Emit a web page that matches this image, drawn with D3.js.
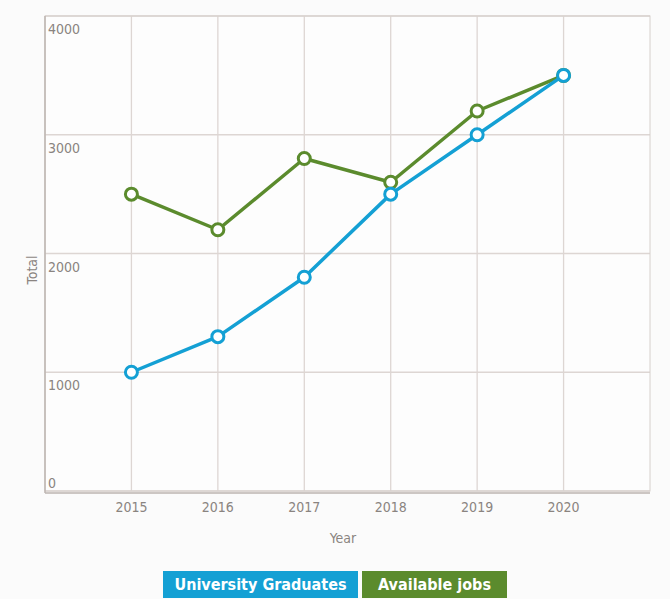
<!DOCTYPE html>
<html>
<head>
<meta charset="utf-8">
<script src="https://cdn.jsdelivr.net/npm/d3@7"></script>
<style>
  html, body { margin: 0; padding: 0; background: #fbfbfb; }
  svg { display: block; }
  text { font-family: "DejaVu Sans Condensed", "DejaVu Sans", sans-serif; font-stretch: condensed; }
</style>
</head>
<body>
<svg id="chart" width="670" height="599"></svg>
<script>
const years = [2015, 2016, 2017, 2018, 2019, 2020];
const graduates = [1000, 1300, 1800, 2500, 3000, 3500];
const jobs = [2500, 2200, 2800, 2600, 3200, 3500];
const yTicks = [0, 1000, 2000, 3000, 4000];
const seriesNames = ["University Graduates", "Available jobs"];
const seriesColors = ["#14a0d4", "#5b8b2d"];

const svg = d3.select("#chart");
const plotL = 45, plotR = 650, plotT = 16, plotB = 491;

const x = d3.scaleLinear().domain([2014, 2021]).range([plotL, plotR]);
const y = d3.scaleLinear().domain([0, 4000]).range([plotB, plotT]);

// plot panel
svg.append("rect")
  .attr("x", plotL).attr("y", plotT)
  .attr("width", plotR - plotL).attr("height", plotB - plotT)
  .attr("fill", "#fdfdfd").attr("stroke", "none");

// horizontal gridlines
svg.append("g").selectAll("line").data(yTicks).join("line")
  .attr("x1", plotL).attr("x2", plotR)
  .attr("y1", d => y(d)).attr("y2", d => y(d))
  .attr("stroke", "#ddd6d3").attr("stroke-width", 1.3);

// vertical gridlines
svg.append("g").selectAll("line").data(years).join("line")
  .attr("x1", d => x(d)).attr("x2", d => x(d))
  .attr("y1", plotT).attr("y2", plotB)
  .attr("stroke", "#ddd6d3").attr("stroke-width", 1.3);

// frame
svg.append("rect")
  .attr("x", plotL).attr("y", plotT)
  .attr("width", plotR - plotL).attr("height", plotB - plotT)
  .attr("fill", "none").attr("stroke", "#d6d0cc").attr("stroke-width", 1);
svg.append("line").attr("x1", plotL).attr("x2", plotL).attr("y1", plotT).attr("y2", plotB + 2)
  .attr("stroke", "#bdb5b0").attr("stroke-width", 1.5);
svg.append("line").attr("x1", plotL).attr("x2", plotR).attr("y1", plotB + 2).attr("y2", plotB + 2)
  .attr("stroke", "#bdb5b0").attr("stroke-width", 1.5);

// y tick labels, inside the panel
svg.append("g").selectAll("text").data(yTicks).join("text")
  .attr("x", plotL + 3)
  .attr("y", d => d === 0 ? y(d) - 3 : y(d) + 18)
  .attr("fill", "#8a8480").attr("font-size", 14)
  .text(d => d);

// x tick labels
svg.append("g").selectAll("text").data(years).join("text")
  .attr("x", d => x(d)).attr("y", 512)
  .attr("text-anchor", "middle")
  .attr("fill", "#8a8480").attr("font-size", 14)
  .text(d => d);

// axis titles
svg.append("text").attr("x", 343).attr("y", 543)
  .attr("text-anchor", "middle").attr("fill", "#8a8480").attr("font-size", 14)
  .text("Year");
svg.append("text").attr("transform", "translate(37,270) rotate(-90)")
  .attr("text-anchor", "middle").attr("fill", "#8a8480").attr("font-size", 14)
  .text("Total");

// series
const series = [graduates, jobs];
const line = d3.line().x((d, i) => x(years[i])).y(d => y(d));
[1, 0].forEach(k => {
  const g = svg.append("g");
  g.append("path").datum(series[k])
    .attr("d", line).attr("fill", "none")
    .attr("stroke", seriesColors[k]).attr("stroke-width", 3.5)
    .attr("stroke-linejoin", "round");
  g.selectAll("circle").data(series[k]).join("circle")
    .attr("cx", (d, i) => x(years[i])).attr("cy", d => y(d))
    .attr("r", 6).attr("fill", "#ffffff")
    .attr("stroke", seriesColors[k]).attr("stroke-width", 3);
});

// legend
const legendBoxes = [{x: 163, w: 195}, {x: 362, w: 145}];
seriesNames.forEach((name, i) => {
  svg.append("rect")
    .attr("x", legendBoxes[i].x).attr("y", 571)
    .attr("width", legendBoxes[i].w).attr("height", 27)
    .attr("fill", seriesColors[i]);
  svg.append("text")
    .attr("x", legendBoxes[i].x + legendBoxes[i].w / 2).attr("y", 590)
    .attr("text-anchor", "middle").attr("fill", "#ffffff")
    .attr("font-size", 16).attr("font-weight", "bold")
    .text(name);
});
</script>
</body>
</html>
